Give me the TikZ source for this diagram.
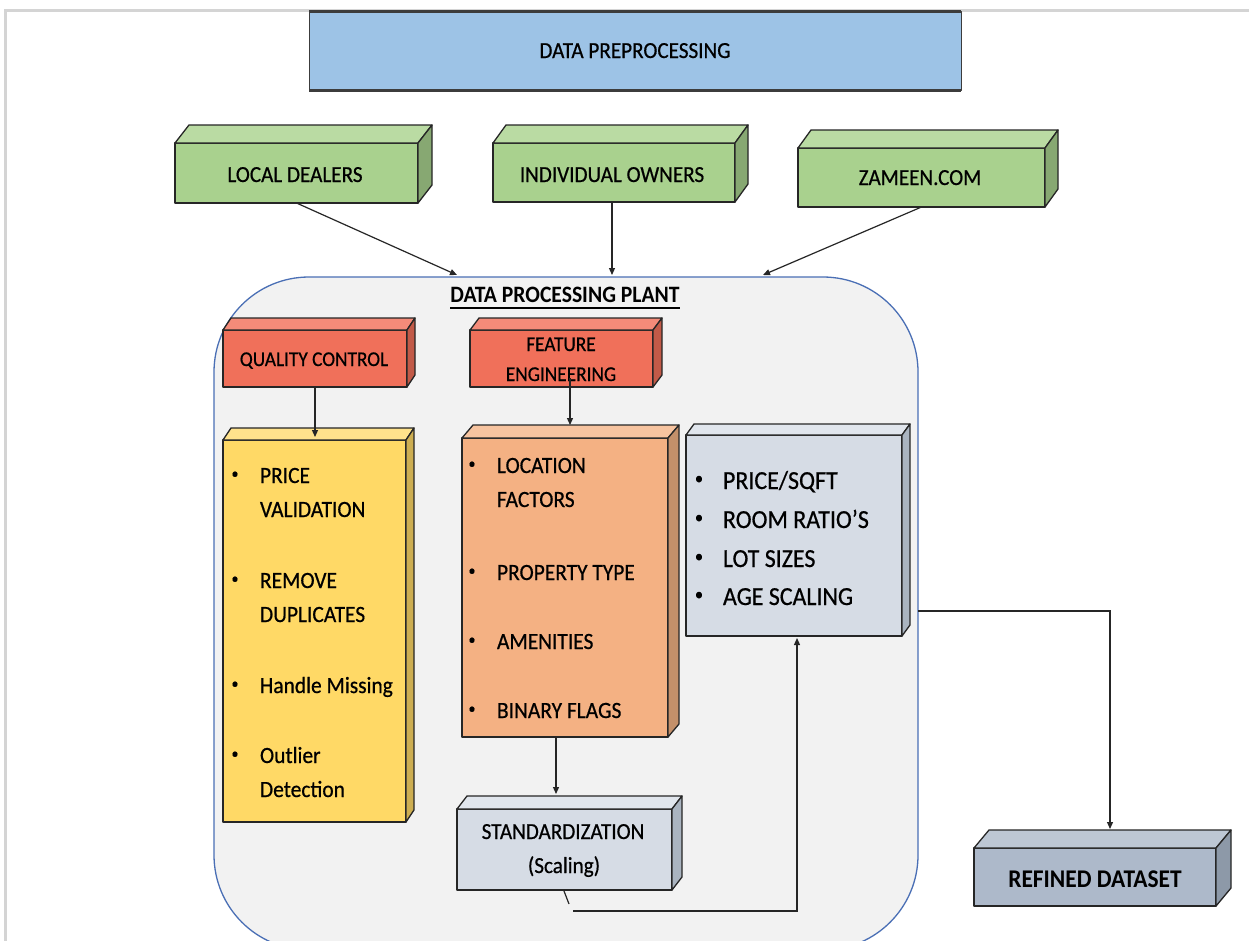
\documentclass[tikz,border=0pt]{standalone}
\usepackage{fontspec}
\setmainfont{Carlito}[FakeStretch=0.92, UprightFeatures={FakeBold=0.6}]
\usetikzlibrary{arrows.meta,calc}
\definecolor{edge}{HTML}{262626}
\definecolor{hdr}{HTML}{9DC3E6}
\definecolor{grnF}{HTML}{A9D18E}\definecolor{grnT}{HTML}{BADBA3}\definecolor{grnS}{HTML}{87A872}
\definecolor{redF}{HTML}{F0705A}\definecolor{redT}{HTML}{F48B79}\definecolor{redS}{HTML}{C25A48}
\definecolor{ylwF}{HTML}{FFD966}\definecolor{ylwT}{HTML}{FFE28C}\definecolor{ylwS}{HTML}{CDAE52}
\definecolor{orgF}{HTML}{F4B183}\definecolor{orgT}{HTML}{F7C4A0}\definecolor{orgS}{HTML}{C4906A}
\definecolor{gryF}{HTML}{D6DCE5}\definecolor{gryT}{HTML}{E1E6ED}\definecolor{gryS}{HTML}{AAB4C0}
\definecolor{refF}{HTML}{ADB9CA}\definecolor{refT}{HTML}{BDC7D4}\definecolor{refS}{HTML}{8D99A8}
\definecolor{plantfill}{HTML}{F2F2F2}
\definecolor{plantedge}{HTML}{4A6FB5}
\definecolor{frame}{HTML}{D4D4D4}
\tikzset{
  face/.style={draw=edge, line width=1.3pt, line join=round},
  box/.style={face, rectangle, inner sep=0pt, outer sep=0pt, anchor=north west},
  lbl/.style={inner sep=0pt, outer sep=0pt, anchor=base, text=black},
  lbll/.style={inner sep=0pt, outer sep=0pt, anchor=base west, text=black},
  bul/.style={inner sep=0pt, outer sep=0pt, anchor=center, text=black, font=\fontsize{15}{18}\selectfont},
  conn/.style={draw=black!85, line width=1.2pt},
  arr/.style={conn, -{Triangle[length=7pt,width=6pt]}},
  fgreen/.style={font=\fontsize{23}{28}\selectfont},
  fred/.style={font=\fontsize{21}{26}\selectfont},
  flist/.style={font=\fontsize{23.3}{28}\selectfont},
  fgray/.style={font=\fontsize{26}{30}\selectfont},
}
\newcommand{\cubefaces}[5]{%
  \filldraw[face, fill=#4] (#1.north west) -- ++(#2,-#3) -- ($(#1.north east)+(#2,-#3)$) -- (#1.north east) -- cycle;
  \filldraw[face, fill=#5] (#1.north east) -- ++(#2,-#3) -- ($(#1.south east)+(#2,-#3)$) -- (#1.south east) -- cycle;}
\begin{document}
\begin{tikzpicture}[x=1pt,y=-1pt]
\useasboundingbox (0,0) rectangle (1249,940);
\clip (0,0) rectangle (1249,940);
\fill[white] (0,0) rectangle (1249,940);
% outer frame
\draw[frame, line width=3pt] (5,942) -- (5,10) -- (1252,10);

% header
\node[box, fill=hdr, draw=edge!90, line width=0.8pt, minimum width=652pt, minimum height=79pt] (hdr) at (309,11) {};
\draw[edge!90, line width=3pt] (hdr.north west) -- (hdr.north east);
\draw[edge!90, line width=3pt] (hdr.south west) -- (hdr.south east);
\node[lbl, fgreen] at (635,58) {DATA PREPROCESSING};

% sources
\node[box, fill=grnF, minimum width=243pt, minimum height=60pt] (ld) at (175,143) {};
\cubefaces{ld}{14}{18}{grnT}{grnS}
\node[lbl, fgreen] at (295,182) {LOCAL DEALERS};
\node[box, fill=grnF, minimum width=242pt, minimum height=59pt] (io) at (493,143) {};
\cubefaces{io}{13}{18}{grnT}{grnS}
\node[lbl, fgreen] at (612,182) {INDIVIDUAL OWNERS};
\node[box, fill=grnF, minimum width=247pt, minimum height=59pt] (zm) at (798,148) {};
\cubefaces{zm}{13}{18}{grnT}{grnS}
\node[lbl, fgreen] at (920,185) {ZAMEEN.COM};

% plant container
\node[draw=plantedge, fill=plantfill, line width=1.3pt, rounded corners=95pt, rectangle, inner sep=0pt, outer sep=0pt, anchor=north west, minimum width=704pt, minimum height=673pt] (plant) at (214,277) {};
\node[lbl, font=\bfseries\fontsize{23.5}{28}\selectfont] (ptitle) at (565,302) {DATA PROCESSING PLANT};
\draw[black, line width=1.5pt] ([yshift=-6pt]ptitle.base west) -- ([yshift=-6pt]ptitle.base east);

\coordinate (inL) at (457,275);
\coordinate (inM) at (612,275);
\coordinate (inR) at (763,275);
\draw[arr] (ld.south) -- (inL);
\draw[arr] (io.south -| inM) -- (inM);
\draw[arr] (zm.south) -- (inR);

% red headers
\node[box, fill=redF, minimum width=184pt, minimum height=57pt] (qc) at (223,330) {};
\cubefaces{qc}{8}{12}{redT}{redS}
\node[lbl, fred] at (314,366) {QUALITY CONTROL};
\node[box, fill=redF, minimum width=183pt, minimum height=57pt] (fe) at (470,330) {};
\cubefaces{fe}{9}{12}{redT}{redS}
\node[lbl, fred] at (561,351) {FEATURE};
\node[lbl, fred] at (561,381) {ENGINEERING};

% yellow list
\node[box, fill=ylwF, minimum width=183pt, minimum height=382pt] (qcl) at (223,440) {};
\cubefaces{qcl}{8}{12}{ylwT}{ylwS}
\foreach \y in {483,588,693,763} {\node[bul] at (235,\y-8) {•};}
\node[lbll, flist] at (260,483) {PRICE};
\node[lbll, flist] at (260,517) {VALIDATION};
\node[lbll, flist] at (260,588) {REMOVE};
\node[lbll, flist] at (260,622) {DUPLICATES};
\node[lbll, flist] at (260,693) {Handle Missing};
\node[lbll, flist] at (260,763) {Outlier};
\node[lbll, flist] at (260,797) {Detection};

% orange list
\node[box, fill=orgF, minimum width=206pt, minimum height=299pt] (fel) at (462,438) {};
\cubefaces{fel}{11}{13}{orgT}{orgS}
\foreach \y in {473,580,649,718} {\node[bul] at (472,\y-8) {•};}
\node[lbll, flist] at (497,473) {LOCATION};
\node[lbll, flist] at (497,507) {FACTORS};
\node[lbll, flist] at (497,580) {PROPERTY TYPE};
\node[lbll, flist] at (497,649) {AMENITIES};
\node[lbll, flist] at (497,718) {BINARY FLAGS};

% gray list
\node[box, fill=gryF, minimum width=216pt, minimum height=201pt] (gl) at (686,435) {};
\cubefaces{gl}{8}{11}{gryT}{gryS}
\foreach \y in {489,528,567,605} {\node[bul, font=\fontsize{18}{20}\selectfont] at (699,\y-9) {•};}
\node[lbll, fgray] at (723,489) {PRICE/SQFT};
\node[lbll, fgray] at (723,528) {ROOM RATIO’S};
\node[lbll, fgray] at (723,567) {LOT SIZES};
\node[lbll, fgray] at (723,605) {AGE SCALING};

% standardization
\node[box, fill=gryF, minimum width=215pt, minimum height=81pt] (std) at (457,809) {};
\cubefaces{std}{10}{13}{gryT}{gryS}
\node[lbl, fgreen] at (563,839) {STANDARDIZATION};
\node[lbl, fgreen] at (564,873) {(Scaling)};

% refined dataset
\node[box, fill=refF, minimum width=242pt, minimum height=58pt] (ref) at (974,848) {};
\cubefaces{ref}{15}{18}{refT}{refS}
\node[lbl, font=\bfseries\fontsize{25.5}{30}\selectfont] at (1095,887) {REFINED DATASET};

% internal connectors
\draw[arr] (qc.south) -- ++(0,50);
\coordinate (feIn) at (570,378);
\coordinate (felTop) at (570,425);
\draw[arr] (feIn) -- (felTop);
\coordinate (felOut) at (556,737);
\coordinate (stdTop) at (556,794);
\draw[arr] (felOut) -- (stdTop);
\coordinate (stdA) at (564,891);
\coordinate (stdB) at (569,904);
\coordinate (stdC) at (573,911);
\coordinate (glIn) at (797,638);
\draw[conn] (stdA) -- (stdB);
\draw[arr] (stdC) -| (glIn);
\coordinate (plantOut) at (918,611);
\coordinate (refIn) at (1110,829);
\draw[arr] (plantOut) -| (refIn);
\end{tikzpicture}
\end{document}
